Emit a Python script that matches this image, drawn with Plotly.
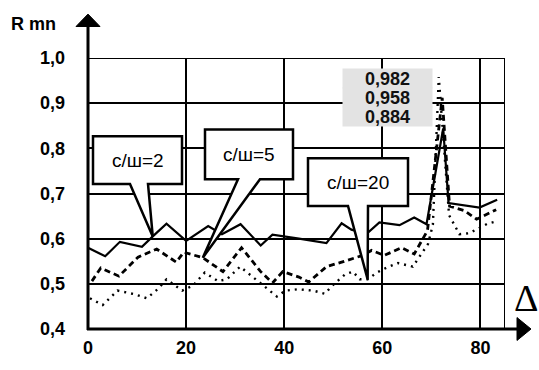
import plotly.graph_objects as go

# ---------------- data ----------------
delta_snr2 = [0, 3.5, 6.5, 11, 13.2, 16, 20, 24.5, 27.3, 31.1, 35.2, 37.6, 43, 48.6, 51.7,
              53.7, 56.8, 59.4, 63.5, 66.5, 69, 72.4, 73.5, 79.8, 83.4]
r_snr2 = [0.580, 0.561, 0.593, 0.582, 0.605, 0.633, 0.595, 0.628, 0.610, 0.632, 0.585, 0.609,
          0.600, 0.590, 0.634, 0.620, 0.611, 0.636, 0.630, 0.647, 0.632, 0.844, 0.679, 0.669, 0.686]

delta_snr5 = [0.8, 2.6, 6.3, 10.2, 14, 18, 19.5, 23.4, 27.5, 31.3, 35.2, 37.6, 39.7, 43, 45,
              48.6, 51.7, 56, 57.8, 60.4, 63.9, 66.5, 69.2, 72.2, 73.7, 76.7, 79.2, 83.2]
r_snr5 = [0.506, 0.535, 0.517, 0.559, 0.577, 0.548, 0.570, 0.558, 0.527, 0.580, 0.527, 0.502,
          0.527, 0.515, 0.504, 0.538, 0.548, 0.563, 0.574, 0.563, 0.580, 0.566, 0.618, 0.912,
          0.672, 0.662, 0.643, 0.664]

delta_snr20 = [0.4, 3, 6, 9.5, 12, 14.3, 16, 19.2, 21.4, 23.8, 26.5, 28.3, 31, 33.4, 36, 38.5,
               40.2, 42.8, 45.9, 48.3, 49.7, 52.4, 54, 55.4, 57, 58.9, 60.9, 63.2, 66.2, 69.3,
               70.3, 71.5, 73.6, 75.7, 77.7, 81.4, 82.8]
r_snr20 = [0.468, 0.453, 0.485, 0.477, 0.468, 0.489, 0.510, 0.485, 0.496, 0.525, 0.506, 0.510,
           0.538, 0.517, 0.494, 0.472, 0.485, 0.488, 0.485, 0.478, 0.495, 0.521, 0.527, 0.510,
           0.510, 0.525, 0.536, 0.546, 0.538, 0.588, 0.631, 0.958, 0.652, 0.610, 0.612, 0.633,
           0.637]

x_ticks = [0, 20, 40, 60, 80]
y_ticks = [0.4, 0.5, 0.6, 0.7, 0.8, 0.9, 1.0]
y_ticktext = ["0,4", "0,5", "0,6", "0,7", "0,8", "0,9", "1,0"]
peak_labels = ["0,982", "0,958", "0,884"]
callout_labels = ["с/ш=2", "с/ш=5", "с/ш=20"]

# ---------------- layout geometry ----------------
W, H = 539, 370
L, R, T, B = 88, 505, 58, 342
XMIN, XMAX, YMIN, YMAX = 0, 85, 0.4, 1.0
FONT = "Arial, Liberation Sans, sans-serif"


def X(px):
    return XMIN + (px - L) / (R - L) * (XMAX - XMIN)


def Y(py):
    return YMIN + (B - py) / (B - T) * (YMAX - YMIN)


def PX(px):
    return (px - L) / (R - L)


def PY(py):
    return (B - py) / (B - T)


fig = go.Figure()
fig.add_trace(go.Scatter(x=delta_snr2, y=r_snr2, mode="lines", name=callout_labels[0],
                         line=dict(color="black", width=2.2)))
fig.add_trace(go.Scatter(x=delta_snr5, y=r_snr5, mode="lines", name=callout_labels[1],
                         line=dict(color="black", width=2.8, dash="6px,4px")))
fig.add_trace(go.Scatter(x=delta_snr20, y=r_snr20, mode="lines", name=callout_labels[2],
                         line=dict(color="black", width=2.4, dash="2px,5px")))

shapes = []
# top and right border grid lines
shapes.append(dict(type="line", xref="x", yref="y", x0=XMIN, x1=XMAX, y0=YMAX, y1=YMAX,
                   line=dict(color="black", width=2), layer="below"))
shapes.append(dict(type="line", xref="x", yref="y", x0=XMAX, x1=XMAX, y0=YMIN, y1=YMAX,
                   line=dict(color="black", width=2), layer="below"))

# axis lines with arrows (paper coords)
shapes.append(dict(type="line", xref="paper", yref="paper", x0=0, x1=0, y0=PY(B + 1), y1=PY(24),
                   line=dict(color="black", width=3)))
shapes.append(dict(type="line", xref="paper", yref="paper", x0=PX(L - 1), x1=PX(517), y0=0, y1=0,
                   line=dict(color="black", width=3)))
shapes.append(dict(type="path", xref="paper", yref="paper",
                   path=f"M {PX(76)},{PY(25)} L {PX(88)},{PY(12)} L {PX(100)},{PY(25)} Z",
                   fillcolor="black", line=dict(color="black", width=1)))
shapes.append(dict(type="path", xref="paper", yref="paper",
                   path=f"M {PX(517)},{PY(330)} L {PX(531)},{PY(342)} L {PX(517)},{PY(354)} Z",
                   fillcolor="black", line=dict(color="black", width=1)))


# callouts: box (px) + wedge base (px) + tip at a data point
def callout(box, base, tip):
    x0, y0, x1, y1 = box
    b0, b1 = base
    tx, ty = tip
    return (f"M {X(x0)},{Y(y0)} L {X(x1)},{Y(y0)} L {X(x1)},{Y(y1)} L {X(b1)},{Y(y1)} "
            f"L {tx},{ty} L {X(b0)},{Y(y1)} L {X(x0)},{Y(y1)} Z")


callouts = [
    ((93, 140, 182, 190), (130, 148), (delta_snr2[4], r_snr2[4])),
    ((205, 133, 293, 185), (238, 260), (delta_snr5[7], r_snr5[7])),
    ((308, 163, 408, 213), (348, 368), (delta_snr20[24], r_snr20[24])),
]
annotations = []
for (box, base, tip), lab in zip(callouts, callout_labels):
    shapes.append(dict(type="path", xref="x", yref="y", path=callout(box, base, tip),
                       fillcolor="white", line=dict(color="black", width=2.5), layer="above"))
    annotations.append(dict(x=X((box[0] + box[2]) / 2), y=Y((box[1] + box[3]) / 2),
                            xref="x", yref="y", text=lab, showarrow=False,
                            font=dict(family=FONT, size=19, color="black")))

# peak value labels
for i, lab in enumerate(peak_labels):
    cy = 79.5 + 20 * i
    annotations.append(dict(x=X(387.5), y=Y(cy), xref="x", yref="y", text=f"<b>{lab}</b>",
                            showarrow=False, width=89, height=19, bgcolor="#e3e3e3",
                            borderpad=0, font=dict(family=FONT, size=18, color="#111")))

# axis titles
annotations.append(dict(x=PX(9), y=PY(22), xref="paper", yref="paper", text="<b>R mn</b>",
                        showarrow=False, xanchor="left", yanchor="middle",
                        font=dict(family=FONT, size=18, color="black")))
annotations.append(dict(x=PX(526), y=PY(310), xref="paper", yref="paper", text="Δ",
                        showarrow=False, xanchor="center", yanchor="middle",
                        font=dict(family="Liberation Serif, Times New Roman, serif", size=38,
                                  color="black")))

fig.update_layout(
    width=W, height=H,
    margin=dict(l=L, r=W - R, t=T, b=H - B, pad=0),
    paper_bgcolor="white", plot_bgcolor="white",
    showlegend=False,
    shapes=shapes, annotations=annotations,
    xaxis=dict(range=[XMIN, XMAX], tickvals=x_ticks, ticktext=[str(v) for v in x_ticks],
               showgrid=True, gridcolor="black", gridwidth=2, zeroline=False, showline=False,
               ticks="", ticklabelstandoff=6,
               tickfont=dict(family=FONT, size=18, color="black", weight="bold")),
    yaxis=dict(range=[YMIN, YMAX], tickvals=y_ticks, ticktext=y_ticktext,
               showgrid=True, gridcolor="black", gridwidth=2, zeroline=False, showline=False,
               ticks="", ticklabelstandoff=22,
               tickfont=dict(family=FONT, size=18, color="black", weight="bold")),
)

fig.write_html("out.html", config={"displayModeBar": False},
               post_script="document.body.style.margin='0';")
